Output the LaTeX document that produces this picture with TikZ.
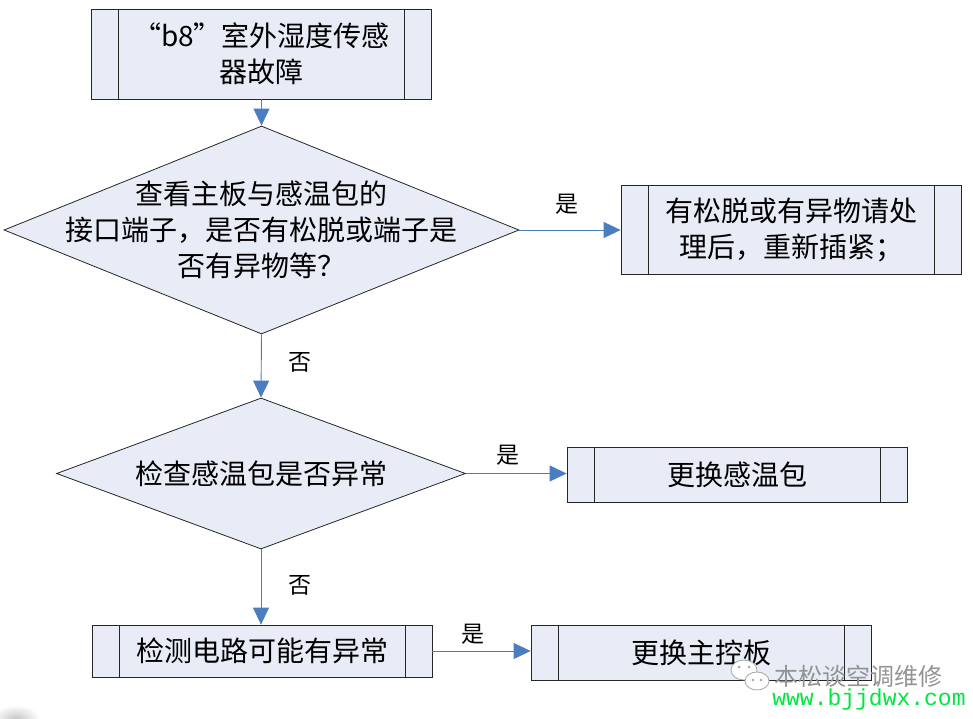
\documentclass[tikz,border=0pt]{standalone}
\usepackage{fontspec}
\setmainfont{Noto Sans CJK SC}
\newfontfamily\wmfont{Liberation Mono}
\usetikzlibrary{shapes.geometric,arrows.meta}
\definecolor{boxfill}{RGB}{232,236,247}
\definecolor{flowblue}{RGB}{74,126,193}
\definecolor{wmgreen}{RGB}{0,230,64}
\tikzset{
  process/.style={draw=black!85, fill=boxfill, line width=0.8pt, minimum width=340pt,
    inner sep=0pt, align=center, font=\fontsize{28}{36}\selectfont,
    path picture={\draw[black!85, line width=0.8pt]
      ([xshift=27pt]path picture bounding box.north west) -- ([xshift=27pt]path picture bounding box.south west)
      ([xshift=-27pt]path picture bounding box.north east) -- ([xshift=-27pt]path picture bounding box.south east);}},
  decision/.style={diamond, draw=black!85, fill=boxfill, line width=0.8pt, inner sep=0pt},
  dtext/.style={align=center, font=\fontsize{28}{36}\selectfont},
  flow/.style={draw=flowblue, line width=0.9pt, -{Triangle[length=17pt,width=16pt]}},
  yesno/.style={font=\fontsize{23}{23}\selectfont}
}
\begin{document}
\begin{tikzpicture}[x=1pt,y=-1pt]
    \useasboundingbox[fill=white] (0,0) rectangle (973,719);

    \node[process, minimum height=90pt] (b1) at (261.5,54) {“b8”室外湿度传感\\器故障};
    \node[decision, minimum width=515pt, minimum height=208pt] (d1) at (261.5,230) {};
    \node[dtext] (d1t) at (d1) {查看主板与感温包的\\接口端子，是否有松脱或端子是\\否有异物等？};
    \node[process, minimum height=89pt] (b2) at (791,229.5) {有松脱或有异物请处\\理后，重新插紧；};
    \node[decision, minimum width=409pt, minimum height=151pt] (d2) at (261,473.5) {};
    \node[dtext] (d2t) at (d2) {检查感温包是否异常};
    \node[process, minimum height=55pt] (b3) at (737,474.5) {更换感温包};
    \node[process, minimum height=52pt] (b4) at (262,651) {检测电路可能有异常};
    \node[process, minimum height=55pt] (b5) at (701,652.5) {更换主控板};

    \draw[flow] (b1.south) -- (d1.north);
    \draw[flow] (d1.east) -- (b2.west |- d1.east);
    \draw[flow] (d1.south) -- (d2.north);
    \draw[flow] (d2.east) -- (b3.west |- d2.east);
    \draw[flow] (d2.south) -- (d2.south |- b4.north);
    \draw[flow] (b4.east) -- (b5.west |- b4.east);

    \node[yesno] (y1) at (567,204) {是};
    \node[yesno] (n1) at (300,362) {否};
    \node[yesno] (y2) at (508,455) {是};
    \node[yesno] (n2) at (300,585) {否};
    \node[yesno] (y3) at (473,634) {是};

    % watermark
    \shade[inner color=gray!45, outer color=white] (16,719) ellipse (24 and 14);
    \draw[gray!70, fill=white, line width=0.8pt] (744,670) ellipse (13 and 10);
    \draw[gray!70, fill=white, line width=0.8pt] (757,681) ellipse (12 and 9);
    \fill[gray!70] (739,667) circle (1.5) (749,667) circle (1.5) (753,680) circle (1.3) (761,680) circle (1.3);
    \node[text=gray!85, font=\fontsize{24}{24}\selectfont] (wm) at (858,676) {本松谈空调维修};
    \node[text=wmgreen, font=\wmfont\fontsize{23}{23}\selectfont] (url) at (869,700) {www.bjjdwx.com};
\end{tikzpicture}
\end{document}
